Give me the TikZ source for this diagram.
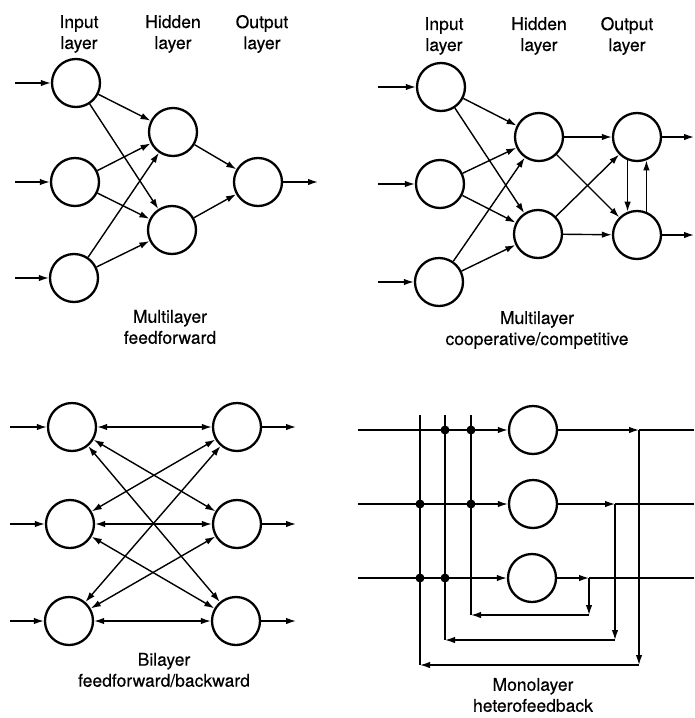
\documentclass[tikz,border=0pt]{standalone}
\usepackage{fontspec}
\setmainfont[FakeBold=0.4]{TeX Gyre Heros}
\usetikzlibrary{arrows.meta}
\begin{document}
\begin{tikzpicture}[x=1pt,y=-1pt,
  neuron/.style={circle,draw,line width=2.3pt,minimum size=48pt,inner sep=0pt},
  conn/.style={line width=1.4pt,-{Latex[length=10pt,width=6.5pt]}},
  biconn/.style={line width=1.4pt,{Latex[length=10pt,width=6.5pt]}-{Latex[length=10pt,width=6.5pt]}},
  plain/.style={line width=1.4pt},
  lbl/.style={align=center,font=\fontsize{17.5}{21}\selectfont,inner sep=0pt},
  jdot/.style={circle,fill,inner sep=0pt,minimum size=9pt}]
\useasboundingbox[fill=white] (0,0) rectangle (694,718);

% ---------- Top-left: multilayer feedforward ----------
\node[lbl] (tl1) at (79,34) {Input\\layer};
\node[lbl] (tl2) at (173,34) {Hidden\\layer};
\node[lbl] (tl3) at (262,34) {Output\\layer};
\node[neuron] (a1) at (76,83) {};
\node[neuron] (a2) at (75,182) {};
\node[neuron] (a3) at (74,278) {};
\node[neuron] (ah1) at (173,132) {};
\node[neuron] (ah2) at (172,230) {};
\node[neuron] (ao) at (258,182) {};
\coordinate (ai1) at (15,83);
\coordinate (ai2) at (15,182);
\coordinate (ai3) at (15,278);
\coordinate (aout) at (318,182);
\draw[conn] (ai1) -- (a1);
\draw[conn] (ai2) -- (a2);
\draw[conn] (ai3) -- (a3);
\foreach \i in {a1,a2,a3}{
  \draw[conn] (\i) -- (ah1);
  \draw[conn] (\i) -- (ah2);
}
\draw[conn] (ah1) -- (ao);
\draw[conn] (ah2) -- (ao);
\draw[conn] (ao) -- (aout);
\node[lbl] (tlc) at (170,327) {Multilayer\\feedforward};

% ---------- Top-right: multilayer cooperative/competitive ----------
\node[lbl] (tr1) at (444,36) {Input\\layer};
\node[lbl] (tr2) at (539,36) {Hidden\\layer};
\node[lbl] (tr3) at (627,36) {Output\\layer};
\node[neuron] (b1) at (441,87) {};
\node[neuron] (b2) at (440,184) {};
\node[neuron] (b3) at (439,282) {};
\node[neuron] (bh1) at (539,137) {};
\node[neuron] (bh2) at (538,234) {};
\node[neuron] (bo1) at (637,137) {};
\node[neuron] (bo2) at (637,235) {};
\coordinate (bi1) at (378,87);
\coordinate (bi2) at (378,184);
\coordinate (bi3) at (378,282);
\coordinate (bout1) at (694,137);
\coordinate (bout2) at (694,235);
\draw[conn] (bi1) -- (b1);
\draw[conn] (bi2) -- (b2);
\draw[conn] (bi3) -- (b3);
\foreach \i in {b1,b2,b3}{
  \draw[conn] (\i) -- (bh1);
  \draw[conn] (\i) -- (bh2);
}
\foreach \i in {bh1,bh2}{
  \draw[conn] (\i) -- (bo1);
  \draw[conn] (\i) -- (bo2);
}
\draw[conn] (bo1.-112) -- (bo2.112);
\draw[conn] (bo2.68) -- (bo1.-68);
\draw[conn] (bo1) -- (bout1);
\draw[conn] (bo2) -- (bout2);
\node[lbl] (trc) at (537,330) {Multilayer\\cooperative/competitive};

% ---------- Bottom-left: bilayer feedforward/backward ----------
\node[neuron] (l1) at (72,427) {};
\node[neuron] (l2) at (70,524) {};
\node[neuron] (l3) at (69,621) {};
\node[neuron] (r1) at (237,427) {};
\node[neuron] (r2) at (237,524) {};
\node[neuron] (r3) at (236,621) {};
\coordinate (li1) at (10,427);
\coordinate (li2) at (10,524);
\coordinate (li3) at (10,621);
\coordinate (ro1) at (296,427);
\coordinate (ro2) at (296,524);
\coordinate (ro3) at (296,621);
\draw[conn] (li1) -- (l1);
\draw[conn] (li2) -- (l2);
\draw[conn] (li3) -- (l3);
\draw[conn] (r1) -- (ro1);
\draw[conn] (r2) -- (ro2);
\draw[conn] (r3) -- (ro3);
\foreach \i in {l1,l2,l3}{
  \foreach \j in {r1,r2,r3}{
    \draw[biconn] (\i) -- (\j);
  }
}
\node[lbl] (blc) at (164,670) {Bilayer\\feedforward/backward};

% ---------- Bottom-right: monolayer heterofeedback ----------
\node[neuron] (m1) at (533,430) {};
\node[neuron] (m2) at (533,504) {};
\node[neuron] (m3) at (532,578) {};
\coordinate (mi1) at (358,430);
\coordinate (mi2) at (358,504);
\coordinate (mi3) at (358,578);
\coordinate (br1) at (639,430);
\coordinate (br2) at (615,504);
\coordinate (br3) at (589,578);
\coordinate (me1) at (694,430);
\coordinate (me2) at (694,504);
\coordinate (me3) at (694,578);
\coordinate (f1) at (639,665);
\coordinate (f2) at (615,640);
\coordinate (f3) at (589,615);
\coordinate (g1) at (420,665);
\coordinate (g2) at (445,640);
\coordinate (g3) at (471,615);
\coordinate (v1) at (420,415);
\coordinate (v2) at (445,415);
\coordinate (v3) at (471,415);
\draw[conn] (mi1) -- (m1);
\draw[conn] (mi2) -- (m2);
\draw[conn] (mi3) -- (m3);
\draw[conn] (m1) -- (br1);
\draw[conn] (m2) -- (br2);
\draw[conn] (m3) -- (br3);
\draw[plain] (br1) -- (me1);
\draw[plain] (br2) -- (me2);
\draw[plain] (br3) -- (me3);
\draw[conn] (br1) -- (f1);
\draw[conn] (br2) -- (f2);
\draw[conn] (br3) -- (f3);
\draw[conn] (f1) -- (g1);
\draw[conn] (f2) -- (g2);
\draw[conn] (f3) -- (g3);
\draw[plain] (g1) -- (v1);
\draw[plain] (g2) -- (v2);
\draw[plain] (g3) -- (v3);
\node[jdot] (d12) at (445,430) {};
\node[jdot] (d13) at (471,430) {};
\node[jdot] (d21) at (420,504) {};
\node[jdot] (d23) at (471,504) {};
\node[jdot] (d31) at (420,578) {};
\node[jdot] (d32) at (445,578) {};
\node[lbl] (brc) at (533,695) {Monolayer\\heterofeedback};
\end{tikzpicture}
\end{document}
